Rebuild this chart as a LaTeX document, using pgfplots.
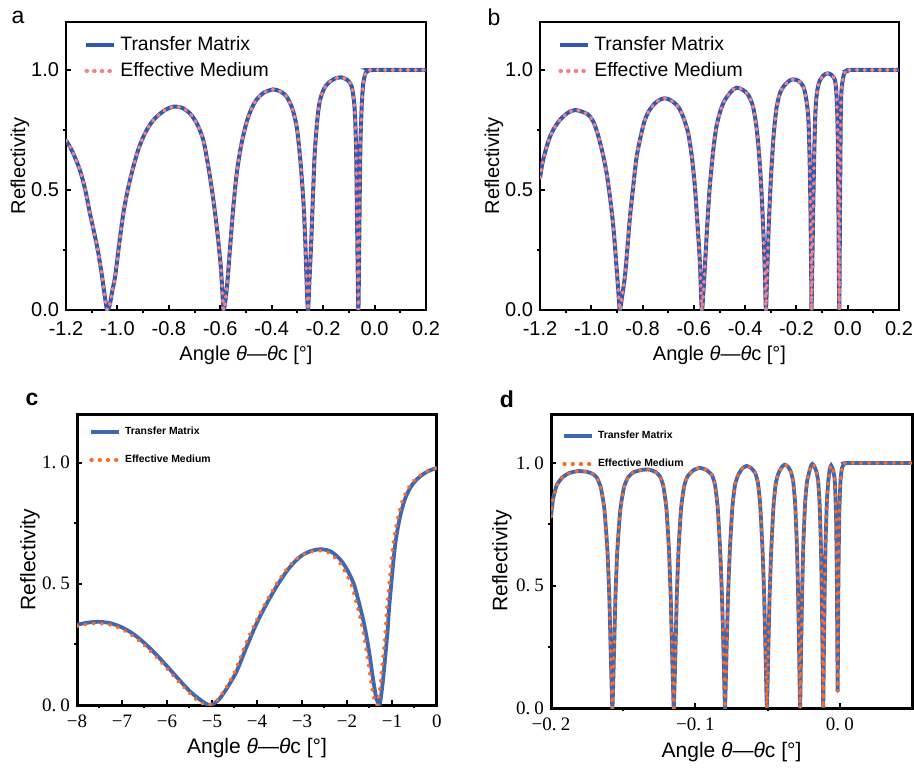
\documentclass[border=0pt]{standalone}
\usepackage{pgfplots}
\pgfplotsset{compat=1.18}
\usepackage{fontspec}
\setmainfont{Liberation Sans}
\newfontfamily\serifnum{Liberation Serif}

\definecolor{tmblue}{RGB}{45,88,180}
\definecolor{emred}{RGB}{245,128,128}
\definecolor{tmblueb}{RGB}{66,103,178}
\definecolor{emorange}{RGB}{252,108,38}

\newcommand{\dsp}{\hspace{0.22em}}

\pgfplotsset{
  panel/.style={
    scale only axis, ymin=0, ymax=1.2,
    ytick={0,0.5,1}, minor ytick={0.25,0.75},
    tick pos=left, tick align=inside,
    major tick length=2.6pt, minor tick length=-1.6pt,
    axis line style={line width=1.2pt},
    every tick/.style={black, line width=1pt},
    legend cell align=left,
    legend image code/.code={\draw[##1] (0pt,0pt) -- (14pt,0pt);},
    legend style={draw=none, fill=none, inner sep=0pt, anchor=north west},
  },
  abstyle/.style={
    xmin=-1.2, xmax=0.2,
    xtick={-1.2,-1.0,-0.8,-0.6,-0.4,-0.2,0.0,0.2},
    xticklabels={-1.2,-1.0,-0.8,-0.6,-0.4,-0.2,0.0,0.2},
    minor xtick={-1.1,-0.9,-0.7,-0.5,-0.3,-0.1,0.1},
    yticklabels={0.0,0.5,1.0},
    tick label style={font=\fontsize{10}{12}\selectfont},
    xticklabel style={yshift=-2pt},
    label style={font=\fontsize{10}{12}\selectfont},
    xlabel={Angle \textit{θ}—\textit{θ}c [°]},
    ylabel={Reflectivity},
    legend style={font=\fontsize{9.7}{11.5}\selectfont, row sep=0.5pt},
  },
  tmab/.style={tmblue, line width=2pt, smooth, tension=0.45},
  emab/.style={emred, line width=1.9pt, line cap=round, dash pattern=on 0.4pt off 3.4pt, smooth, tension=0.45},
  tmcd/.style={tmblueb, line width=1.9pt},
  emcd/.style={emorange, line width=1.8pt, line cap=round, dash pattern=on 0.4pt off 3.7pt},
  cdstyle/.style={
    yticklabels={0.\dsp0,0.\dsp5,1.\dsp0},
    tick label style={font=\serifnum\fontsize{9.5}{11}\selectfont},
    xticklabel style={yshift=-1.5pt},
    label style={font=\fontsize{10.5}{12}\selectfont},
    xlabel={Angle \textit{θ}—\textit{θ}c [°]},
    ylabel={Reflectivity},
    axis line style={line width=1.5pt},
    legend style={font=\bfseries\fontsize{5.2}{6}\selectfont, row sep=4.8pt},
  },
}

\pgfplotstableread{
x y
-1.200 0.708
-1.175 0.660
-1.146 0.583
-1.125 0.500
-1.107 0.403
-1.090 0.320
-1.074 0.236
-1.060 0.140
-1.048 0.050
-1.040 0.000
-1.030 0.020
-1.020 0.080
-1.009 0.139
-0.995 0.260
-0.977 0.403
-0.958 0.510
-0.938 0.597
-0.920 0.665
-0.899 0.722
-0.875 0.770
-0.847 0.806
-0.815 0.833
-0.783 0.847
-0.750 0.843
-0.718 0.819
-0.690 0.775
-0.666 0.708
-0.647 0.600
-0.627 0.460
-0.611 0.320
-0.598 0.180
-0.591 0.060
-0.587 0.000
-0.580 0.040
-0.572 0.120
-0.562 0.260
-0.550 0.420
-0.536 0.570
-0.518 0.690
-0.497 0.785
-0.478 0.840
-0.458 0.878
-0.430 0.906
-0.394 0.919
-0.365 0.910
-0.342 0.889
-0.320 0.840
-0.303 0.764
-0.290 0.640
-0.277 0.458
-0.270 0.300
-0.264 0.110
-0.259 0.000
-0.253 0.130
-0.245 0.320
-0.238 0.520
-0.232 0.667
-0.222 0.800
-0.212 0.875
-0.195 0.925
-0.173 0.952
-0.150 0.966
-0.128 0.969
-0.105 0.958
-0.089 0.931
-0.080 0.870
-0.076 0.806
-0.072 0.680
-0.069 0.450
-0.066 0.200
-0.063 0.000
-0.060 0.250
-0.057 0.550
-0.054 0.736
-0.049 0.870
-0.044 0.944
-0.037 0.980
-0.031 0.993
-0.020 0.999
-0.005 1.000
0.200 1.000
}\atable

\pgfplotstableread{
x y
-1.200 0.550
-1.190 0.615
-1.174 0.681
-1.158 0.730
-1.141 0.764
-1.120 0.795
-1.102 0.813
-1.085 0.826
-1.063 0.833
-1.040 0.828
-1.011 0.813
-0.990 0.780
-0.972 0.722
-0.955 0.650
-0.940 0.569
-0.926 0.460
-0.914 0.347
-0.903 0.200
-0.894 0.069
-0.889 0.000
-0.882 0.040
-0.869 0.139
-0.859 0.260
-0.849 0.389
-0.836 0.520
-0.823 0.639
-0.806 0.730
-0.791 0.792
-0.772 0.835
-0.752 0.861
-0.733 0.876
-0.713 0.882
-0.690 0.874
-0.661 0.847
-0.640 0.800
-0.622 0.736
-0.608 0.640
-0.596 0.514
-0.586 0.360
-0.577 0.208
-0.569 0.000
-0.562 0.090
-0.557 0.180
-0.548 0.350
-0.538 0.514
-0.525 0.660
-0.512 0.764
-0.495 0.835
-0.479 0.875
-0.455 0.910
-0.434 0.926
-0.410 0.918
-0.388 0.896
-0.370 0.850
-0.356 0.764
-0.345 0.640
-0.336 0.486
-0.328 0.300
-0.323 0.153
-0.319 0.000
-0.314 0.150
-0.310 0.292
-0.304 0.450
-0.297 0.597
-0.288 0.740
-0.277 0.847
-0.262 0.910
-0.245 0.938
-0.228 0.955
-0.212 0.961
-0.192 0.955
-0.173 0.931
-0.162 0.880
-0.154 0.806
-0.149 0.650
-0.145 0.400
-0.142 0.100
-0.141 0.000
-0.138 0.200
-0.134 0.458
-0.130 0.680
-0.125 0.847
-0.118 0.920
-0.108 0.958
-0.092 0.980
-0.076 0.986
-0.062 0.978
-0.050 0.958
-0.044 0.900
-0.039 0.736
-0.036 0.400
-0.033 0.000
-0.030 0.450
-0.026 0.875
-0.017 0.972
-0.008 0.992
0.003 0.998
0.010 1.000
0.200 1.000
}\btable

\pgfplotstableread{
x y
-8.00 0.331
-7.75 0.340
-7.50 0.343
-7.25 0.337
-7.00 0.320
-6.75 0.293
-6.50 0.255
-6.25 0.210
-6.00 0.160
-5.75 0.108
-5.50 0.058
-5.25 0.020
-5.05 0.000
-4.85 0.022
-4.65 0.075
-4.45 0.140
-4.22 0.245
-4.00 0.340
-3.75 0.430
-3.50 0.508
-3.25 0.573
-3.00 0.617
-2.75 0.638
-2.55 0.642
-2.35 0.632
-2.15 0.600
-2.00 0.559
-1.85 0.500
-1.77 0.448
-1.65 0.360
-1.58 0.297
-1.50 0.210
-1.44 0.131
-1.36 0.040
-1.28 0.000
-1.22 0.070
-1.17 0.159
-1.10 0.300
-1.06 0.407
-0.95 0.628
-0.88 0.720
-0.80 0.793
-0.70 0.855
-0.57 0.903
-0.45 0.930
-0.30 0.953
-0.15 0.968
0.00 0.978
}\ctmtable

\pgfplotstableread{
x y
-8.00 0.325
-7.75 0.334
-7.50 0.336
-7.25 0.330
-7.00 0.312
-6.75 0.284
-6.50 0.246
-6.25 0.200
-6.00 0.150
-5.75 0.098
-5.50 0.050
-5.30 0.015
-5.10 0.000
-4.90 0.018
-4.70 0.068
-4.50 0.135
-4.28 0.240
-4.05 0.335
-3.80 0.425
-3.55 0.505
-3.30 0.570
-3.05 0.613
-2.80 0.632
-2.60 0.636
-2.40 0.627
-2.20 0.595
-2.05 0.552
-1.90 0.493
-1.82 0.440
-1.70 0.352
-1.63 0.290
-1.55 0.200
-1.49 0.123
-1.41 0.035
-1.33 0.000
-1.27 0.070
-1.22 0.159
-1.15 0.300
-1.11 0.405
-1.00 0.625
-0.93 0.717
-0.85 0.790
-0.75 0.852
-0.62 0.900
-0.50 0.928
-0.35 0.951
-0.18 0.967
0.00 0.978
}\cemtable

\pgfplotstableread{
x y
-0.2000 0.780
-0.1985 0.855
-0.1960 0.910
-0.1920 0.942
-0.1870 0.960
-0.1810 0.967
-0.1750 0.964
-0.1710 0.955
-0.1682 0.940
-0.1655 0.900
-0.1630 0.810
-0.1609 0.640
-0.1596 0.450
-0.1587 0.240
-0.1575 0.000
-0.1563 0.240
-0.1554 0.450
-0.1541 0.640
-0.1520 0.810
-0.1495 0.900
-0.1468 0.940
-0.1430 0.962
-0.1370 0.972
-0.1320 0.973
-0.1275 0.963
-0.1245 0.945
-0.1222 0.905
-0.1201 0.815
-0.1183 0.645
-0.1171 0.450
-0.1162 0.240
-0.1150 0.000
-0.1138 0.240
-0.1129 0.450
-0.1117 0.645
-0.1099 0.815
-0.1078 0.905
-0.1055 0.945
-0.1015 0.970
-0.0970 0.980
-0.0925 0.972
-0.0885 0.950
-0.0864 0.910
-0.0846 0.820
-0.0829 0.650
-0.0816 0.455
-0.0806 0.240
-0.0795 0.000
-0.0784 0.240
-0.0774 0.455
-0.0761 0.650
-0.0744 0.820
-0.0726 0.910
-0.0705 0.950
-0.0675 0.978
-0.0645 0.988
-0.0615 0.980
-0.0585 0.958
-0.0566 0.915
-0.0551 0.825
-0.0536 0.655
-0.0524 0.460
-0.0515 0.240
-0.0505 0.000
-0.0495 0.240
-0.0486 0.460
-0.0474 0.655
-0.0459 0.825
-0.0444 0.915
-0.0425 0.958
-0.0400 0.985
-0.0382 0.993
-0.0360 0.986
-0.0338 0.963
-0.0322 0.920
-0.0309 0.830
-0.0297 0.660
-0.0289 0.470
-0.0282 0.240
-0.0275 0.000
-0.0268 0.240
-0.0261 0.470
-0.0253 0.660
-0.0241 0.830
-0.0228 0.920
-0.0212 0.963
-0.0200 0.988
-0.0190 0.996
-0.0178 0.988
-0.0162 0.965
-0.0150 0.925
-0.0140 0.835
-0.0131 0.665
-0.0125 0.470
-0.0120 0.240
-0.0115 0.000
-0.0110 0.240
-0.0105 0.470
-0.0099 0.665
-0.0090 0.835
-0.0080 0.925
-0.0070 0.975
-0.0060 0.990
-0.0048 0.975
-0.0035 0.930
-0.0026 0.780
-0.0020 0.500
-0.0015 0.067
-0.0010 0.500
-0.0004 0.780
0.0005 0.930
0.0015 0.980
0.0030 0.996
0.0050 1.000
0.0500 1.000
}\dtable

\begin{document}
\begin{tikzpicture}[x=1pt,y=1pt]
\useasboundingbox (0,0) rectangle (457,383.5);
\node[font=\fontsize{11.5}{13}\selectfont] at (9,375) {a};
\node[font=\fontsize{11.5}{13}\selectfont] at (247,375) {b};
\node[font=\bfseries\fontsize{11.5}{13}\selectfont] at (16,184) {c};
\node[font=\bfseries\fontsize{11.5}{13}\selectfont] at (253.5,184) {d};

% ---------------- panel a
\begin{axis}[panel, abstyle, at={(33pt,228.5pt)}, anchor=south west, width=180pt, height=144pt,
  xlabel style={at={(axis description cs:0.5,-0.156)}, anchor=center},
  ylabel style={at={(axis description cs:-0.128,0.5)}, anchor=center},
  legend style={at={(axis description cs:0.05,0.965)}}]
\addplot[tmab] table[x=x,y=y] {\atable};
\addlegendentry{Transfer Matrix}
\addplot[emab] table[x=x,y=y] {\atable};
\addlegendentry{Effective Medium}
\end{axis}

% ---------------- panel b
\begin{axis}[panel, abstyle, at={(270pt,228.5pt)}, anchor=south west, width=179.5pt, height=144pt,
  xlabel style={at={(axis description cs:0.5,-0.156)}, anchor=center},
  ylabel style={at={(axis description cs:-0.128,0.5)}, anchor=center},
  legend style={at={(axis description cs:0.05,0.965)}}]
\addplot[tmab] table[x=x,y=y] {\btable};
\addlegendentry{Transfer Matrix}
\addplot[emab] table[x=x,y=y] {\btable};
\addlegendentry{Effective Medium}
\end{axis}

% ---------------- panel c
\begin{axis}[panel, cdstyle, at={(38.5pt,31pt)}, anchor=south west, width=180pt, height=145.5pt,
  xmin=-8, xmax=0, xtick={-8,-7,-6,-5,-4,-3,-2,-1,0},
  xticklabels={−8,−7,−6,−5,−4,−3,−2,−1,0},
  minor xtick={-7.5,-6.5,-5.5,-4.5,-3.5,-2.5,-1.5,-0.5},
  xlabel style={at={(axis description cs:0.5,-0.148)}, anchor=center},
  ylabel style={at={(axis description cs:-0.131,0.5)}, anchor=center},
  legend style={at={(axis description cs:0.033,0.972)}}]
\addplot[tmcd, smooth, tension=0.5] table[x=x,y=y] {\ctmtable};
\addlegendentry{Transfer Matrix}
\addplot[emcd, smooth, tension=0.5] table[x=x,y=y] {\cemtable};
\addlegendentry{Effective Medium}
\end{axis}

% ---------------- panel d
\begin{axis}[panel, cdstyle, at={(275.5pt,29.5pt)}, anchor=south west, width=180.5pt, height=147pt,
  xmin=-0.2, xmax=0.05, xtick={-0.2,-0.1,0.0},
  xticklabels={−0.\dsp2,−0.\dsp1,0.\dsp0},
  minor xtick={-0.15,-0.05},
  xlabel style={at={(axis description cs:0.5,-0.150)}, anchor=center},
  ylabel style={at={(axis description cs:-0.136,0.5)}, anchor=center},
  legend style={at={(axis description cs:0.030,0.958)}}]
\addplot[tmcd, smooth, tension=0.3] table[x=x,y=y] {\dtable};
\addlegendentry{Transfer Matrix}
\addplot[emcd, smooth, tension=0.3] table[x=x,y=y] {\dtable};
\addlegendentry{Effective Medium}
\end{axis}
\end{tikzpicture}
\end{document}
